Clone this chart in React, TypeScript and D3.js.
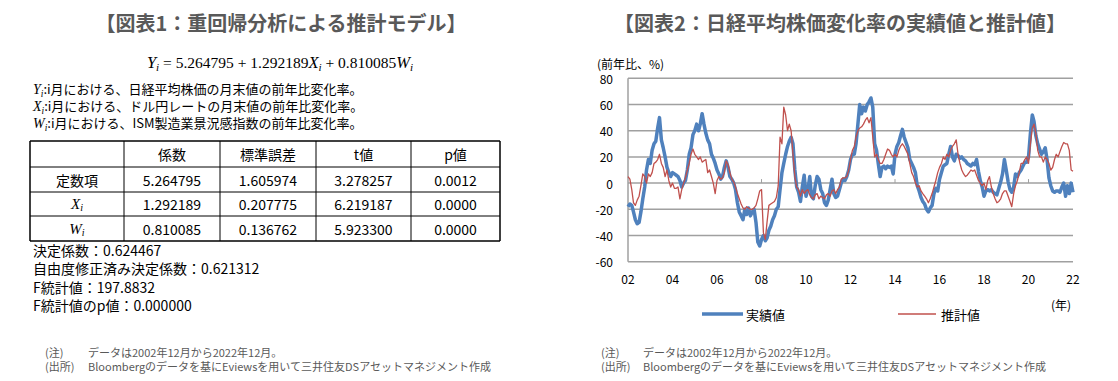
import React from 'react';
import * as d3 from 'd3';

// ---------- data ----------
const startYear = 2002;
const startMonthIndex = 11; // December 2002

const actual = [
  -18, -16, -17, -22, -28, -31, -30, -22, -12, -3, 10, 18,
  15, 25, 30, 32, 42, 50, 33, 27, 20, 12, 8, 5,
  8, 7, 6, 5, 2, -3, 0, 2, 10, 22, 27, 37,
  40, 45, 40, 45, 53, 45, 38, 33, 30, 22, 19, 15,
  10, 7, 3, 5, 12, 17, 12, 5, 3, 0, -5, -15,
  -22, -25, -28, -20, -24, -19, -25, -22, -20, -30, -45, -48,
  -43, -40, -44, -42, -36, -33, -28, -25, -20, -18, -5, 8,
  15, 22, 28, 32, 35, 30, 10, -3, -7, -14, -3, 6,
  -10, -5, 5, -10, -12, -2, 5, 3, -5, -8, -15, -17,
  -13, -5, 3, -8, -11, -10, -5, 0, 3, 2, 5, 10,
  18,
  22, 22, 30, 45, 60, 53, 58, 55, 60, 62, 65, 58,
  30, 25, 15, 5, 12, 13, 11, 13, 12, 13, 7, 22,
  28, 31, 36, 41, 35, 31, 27, 18, 15, 12, 8, -2,
  -6, -11, -14, -16, -20, -22, -19, -17, -8, -4, -6, 3,
  8, 13, 14, 15, 22, 28, 20, 17, 22, 21, 19, 20,
  18, 17, 15, 14, 13, 15, 14, 18, 9, 2, -3, -10,
  -6, -5, -6, -5, -7, -8, -9, -4, 1, 7, 18, 10,
  1, -5, -7, -3, 7, 5, 8, 10, 13, 16, 16, 20,
  38, 52, 47, 36, 30, 26, 22, 24, 27, 18, 4, -2,
  -6, -7, -6, -6, -7, -3, 0, -10, -2, -8, 0, -7,
];

const estimated = [
  5, 3, -5, -15, -17, -13, -10, -2, 7, 5, 0, 7,
  5, 8, 15, 16, 18, 22, 15, 12, 5, 10, 2, -3,
  0, -4, -4, -3, -12, -5, 0, 4, 10, 15, 22, 26,
  22, 20, 18, 20, 16, 17, 18, 8, 10, 5, 0, -8,
  2, 5, 3, 4, 8, 17, 14, 8, 3, 1, -3, -8,
  -12, -16, -19, -20, -18, -19, -20, -20, -19, -17, -12, -6,
  -5, -38, -43, -30, -17, -16, -15, -14, -11, -2, 35, 30,
  58, 52, 40, 45, 40, 22, 5, -3, -5, -10, -5, -8,
  -6, -5, -9, -11, -12, -9, -8, -12, -10, -11, -12, -9,
  -8, -10, -6, -5, -8, -5, -3, 3, 4, 4, 5, 10,
  18,
  25, 28, 35, 40, 42, 43, 45, 48, 50, 46, 50, 35,
  20, 22, 18, 15, 15, 18, 22, 26, 25, 22, 20, 22,
  20, 25, 28, 30, 28, 25, 22, 15, 8, 5, 0, -3,
  -2, -6, -8, -10, -12, -15, -12, -8, -3, 2, 8, 12,
  15, 20, 18, 22, 20, 25, 28, 30, 33, 22, 15, 10,
  7, 5, 6, 8, 10, 9, 10, 6, 2, 0, -2, 0,
  -5, 2, 5, -3, -8, -12, -15, -14, -12, -8, -6, -6,
  -10, -14, -18, -8, -2, 2, 8, 15, 15, 18, 20, 15,
  30, 42, 45, 38, 25, 20, 20, 16, 20, 18, 15, 10,
  12, 18, 22, 20, 24, 28, 31, 30, 30, 25, 10, 9,
];

const yTicks = [-60, -40, -20, 0, 20, 40, 60, 80];
const xTickYears = [2002, 2004, 2006, 2008, 2010, 2012, 2014, 2016, 2018, 2020, 2022];
const zeroLineTickYears = [2008, 2014, 2020];

const tableHeaders = ['係数', '標準誤差', 't値', 'p値'];
const rowLabels = ['定数項', 'X', 'W'];
const coefValues = ['5.264795', '1.292189', '0.810085'];
const stdErrValues = ['1.605974', '0.207775', '0.136762'];
const tValues = ['3.278257', '6.219187', '5.923300'];
const pValues = ['0.0012', '0.0000', '0.0000'];

const statLines = [
  '決定係数：0.624467',
  '自由度修正済み決定係数：0.621312',
  'F統計値：197.8832',
  'F統計値のp値：0.000000',
];

const defLines = [
  { v: 'Y', text: ':i月における、日経平均株価の月末値の前年比変化率。' },
  { v: 'X', text: ':i月における、ドル円レートの月末値の前年比変化率。' },
  { v: 'W', text: ':i月における、ISM製造業景況感指数の前年比変化率。' },
];

const noteText = 'データは2002年12月から2022年12月。';
const sourceText = 'Bloombergのデータを基にEviewsを用いて三井住友DSアセットマネジメント作成';

// ---------- styles ----------
const SANS = '"Noto Sans CJK JP", "Noto Sans", sans-serif';
const SERIF = '"Liberation Serif", "DejaVu Serif", serif';
const BLUE = '#4F81BD';
const RED = '#C0504D';
const GRID = '#A0A0A0';
const TITLE = '#595959';

function monthDate(i: number) {
  return new Date(startYear, startMonthIndex + i, 1);
}

function varParts(v: string, size: number, key: string) {
  return [
    <tspan key={key + 'v'} fontFamily={SERIF} fontStyle="italic" fontSize={size + 1}>{v}</tspan>,
    <tspan key={key + 's'} fontFamily={SERIF} fontStyle="italic" fontSize={size * 0.72} baselineShift={-3}>i</tspan>,
  ];
}

export default function App() {
  const W = 1118;
  const H = 381;

  // chart geometry
  const left = 628, right = 1073, top = 78.3, bottom = 261.7;
  const x = d3.scaleTime().domain([monthDate(0), monthDate(240)]).range([left, right]);
  const y = d3.scaleLinear().domain([-60, 80]).range([bottom, top]);
  const line = d3.line<number>().x((_, i) => x(monthDate(i))).y((d) => y(d));

  // table geometry
  const colX = [30, 124, 220, 316, 411, 500];
  const rowY = [141, 167, 192, 216, 241];
  const cellRows = rowLabels.map((_, r) => [coefValues[r], stdErrValues[r], tValues[r], pValues[r]]);

  const eqSize = 15.5;

  return (
    <svg width={W} height={H} style={{ position: 'absolute', left: 0, top: 0, background: '#fff' }} fontFamily={SANS}>
      <rect width={W} height={H} fill="#fff" />

      {/* ---------------- left panel ---------------- */}
      <text x={281} y={22} textAnchor="middle" dominantBaseline="central" fontSize={20} fontWeight="bold" fill={TITLE}>
        【図表1：重回帰分析による推計モデル】
      </text>

      <text x={280} y={68} textAnchor="middle" fontSize={eqSize} fontFamily={SERIF} fill="#000">
        {varParts('Y', eqSize, 'a')}
        <tspan> = 5.264795 + 1.292189</tspan>
        {varParts('X', eqSize, 'b')}
        <tspan> + 0.810085</tspan>
        {varParts('W', eqSize, 'c')}
      </text>

      {defLines.map((d, i) => (
        <text key={i} x={33} y={94 + i * 17} fontSize={13} fill="#000">
          {varParts(d.v, 13, 'd' + i)}
          <tspan>{d.text}</tspan>
        </text>
      ))}

      {/* table */}
      <g>
        {rowY.map((ry, i) => (
          <line key={'h' + i} x1={colX[0]} x2={colX[colX.length - 1]} y1={ry} y2={ry} stroke="#000" strokeWidth={i === 0 || i === rowY.length - 1 ? 1.5 : 1} />
        ))}
        {colX.map((cx, i) => (
          <line key={'v' + i} x1={cx} x2={cx} y1={rowY[0]} y2={rowY[rowY.length - 1]} stroke="#000" strokeWidth={i === 0 || i === colX.length - 1 ? 1.5 : 1} />
        ))}
        {tableHeaders.map((h, i) => (
          <text key={'th' + i} x={(colX[i + 1] + colX[i + 2]) / 2} y={(rowY[0] + rowY[1]) / 2} textAnchor="middle" dominantBaseline="central" fontSize={14}>
            {h}
          </text>
        ))}
        {rowLabels.map((lab, r) => (
          <text key={'rl' + r} x={(colX[0] + colX[1]) / 2} y={(rowY[r + 1] + rowY[r + 2]) / 2} textAnchor="middle" dominantBaseline="central" fontSize={14}>
            {r === 0 ? lab : varParts(lab, 14, 'r' + r)}
          </text>
        ))}
        {cellRows.map((row, r) =>
          row.map((val, c) => (
            <text key={'c' + r + '-' + c} x={(colX[c + 1] + colX[c + 2]) / 2} y={(rowY[r + 1] + rowY[r + 2]) / 2} textAnchor="middle" dominantBaseline="central" fontSize={14}>
              {val}
            </text>
          ))
        )}
      </g>

      {statLines.map((s, i) => (
        <text key={'s' + i} x={33} y={250 + i * 18.3} dominantBaseline="central" fontSize={14} fill="#000">
          {s}
        </text>
      ))}

      <g fontSize={11} fill={TITLE}>
        <text x={45} y={352} dominantBaseline="central">(注)</text>
        <text x={88} y={352} dominantBaseline="central">{noteText}</text>
        <text x={45} y={366} dominantBaseline="central">(出所)</text>
        <text x={88} y={366} dominantBaseline="central">{sourceText}</text>
      </g>

      {/* ---------------- right panel ---------------- */}
      <text x={840} y={22} textAnchor="middle" dominantBaseline="central" fontSize={20} fontWeight="bold" fill={TITLE}>
        【図表2：日経平均株価変化率の実績値と推計値】
      </text>

      <text x={597} y={63} dominantBaseline="central" fontSize={12} fill="#000">(前年比、%)</text>

      {/* grid */}
      {yTicks.map((t) => (
        <line key={'g' + t} x1={left} x2={right} y1={y(t)} y2={y(t)} stroke={GRID} strokeWidth={1.5} />
      ))}
      <line x1={left} x2={left} y1={top} y2={bottom} stroke={GRID} strokeWidth={1.5} />
      {zeroLineTickYears.map((yr) => {
        const xx = x(new Date(yr, 11, 1));
        return <line key={'zt' + yr} x1={xx} x2={xx} y1={y(0)} y2={y(0) - 4} stroke={GRID} strokeWidth={1} />;
      })}

      {yTicks.map((t) => (
        <text key={'yl' + t} x={613} y={y(t)} textAnchor="end" dominantBaseline="central" fontSize={12} fill="#000">
          {t}
        </text>
      ))}
      {xTickYears.map((yr) => (
        <text key={'xl' + yr} x={x(new Date(yr, 11, 1))} y={278} textAnchor="middle" dominantBaseline="central" fontSize={12} fill="#000">
          {d3.timeFormat('%y')(new Date(yr, 0, 1))}
        </text>
      ))}
      <text x={1061} y={304} textAnchor="middle" dominantBaseline="central" fontSize={12} fill="#000">(年)</text>

      {/* series */}
      <path d={line(actual) || ''} fill="none" stroke={BLUE} strokeWidth={3.5} strokeLinejoin="round" />
      <path d={line(estimated) || ''} fill="none" stroke={RED} strokeWidth={1.3} strokeLinejoin="round" />

      {/* legend */}
      <line x1={702} x2={743} y1={314} y2={314} stroke={BLUE} strokeWidth={3.5} />
      <text x={746} y={314} dominantBaseline="central" fontSize={13} fill="#000">実績値</text>
      <line x1={898} x2={936} y1={314} y2={314} stroke={RED} strokeWidth={1.5} />
      <text x={941} y={314} dominantBaseline="central" fontSize={13} fill="#000">推計値</text>

      <g fontSize={11} fill={TITLE}>
        <text x={601} y={352} dominantBaseline="central">(注)</text>
        <text x={643} y={352} dominantBaseline="central">{noteText}</text>
        <text x={601} y={366} dominantBaseline="central">(出所)</text>
        <text x={643} y={366} dominantBaseline="central">{sourceText}</text>
      </g>
    </svg>
  );
}
